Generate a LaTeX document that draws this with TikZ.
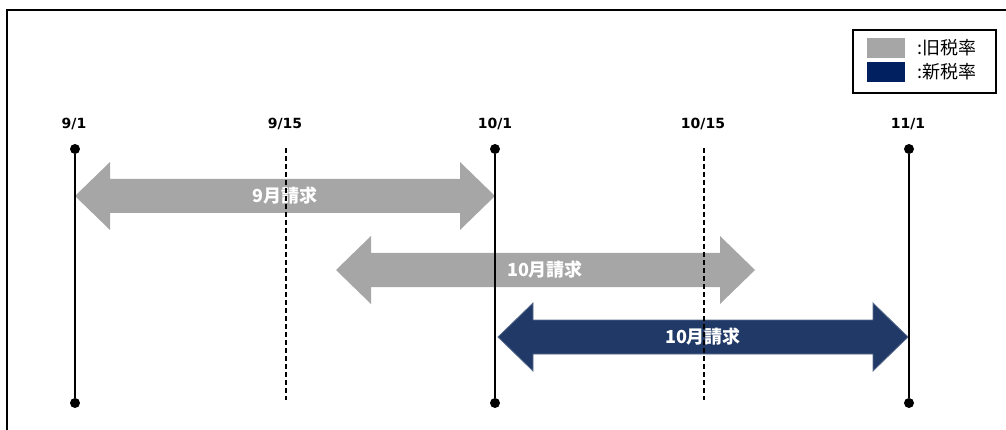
\documentclass[tikz,border=0pt]{standalone}
\usepackage{fontspec}
\setmainfont{DejaVu Sans}
\newfontfamily\cjk{Noto Sans CJK JP}
\usetikzlibrary{positioning}

\definecolor{oldrate}{RGB}{166,166,166}
\definecolor{newrate}{RGB}{0,32,96}
\definecolor{newbar}{RGB}{33,57,103}

\tikzset{
  dot/.style={circle,fill,inner sep=0pt,minimum size=10pt},
  dayline/.style={line width=2pt},
  midline/.style={line width=2pt,dash pattern=on 5pt off 3pt},
  datelbl/.style={font=\bfseries\fontsize{14}{16}\selectfont},
  billlbl/.style={text=white,font=\cjk\bfseries\fontsize{18}{20}\selectfont},
  swatch/.style={inner sep=0pt,minimum width=38pt,minimum height=20pt},
  legtxt/.style={anchor=west,inner sep=0pt,font=\cjk\fontsize{18}{20}\selectfont}
}

% one billing period: left tip, right tip, middle y, fill style
\newcommand{\billarrow}[4]{%
  \fill[#4] (#1,#3) -- ({#1+35},{#3-34}) -- ({#1+35},{#3-17}) -- ({#2-35},{#3-17})
    -- ({#2-35},{#3-34}) -- (#2,#3) -- ({#2-35},{#3+34}) -- ({#2-35},{#3+17})
    -- ({#1+35},{#3+17}) -- ({#1+35},{#3+34}) -- cycle;}

\begin{document}
\begin{tikzpicture}[x=1pt,y=-1pt]
  \useasboundingbox (0,0) rectangle (1006,430);
  \draw[line width=2pt] (7,440) -- (7,10) -- (1016,10);

  % billing periods
  \billarrow{75}{495}{196}{oldrate}
  \billarrow{336}{755}{270}{oldrate}
  \billarrow{498}{908}{337}{newbar,draw=newbar!75!white,line width=0.8pt}

  \node[billlbl] (sep) at (285,196) {9月請求};
  \node[billlbl] (octold) at (545,270) {10月請求};
  \node[billlbl] (octnew) at (703,337) {10月請求};

  % month boundaries
  \foreach \x [count=\i] in {75,495,909} {
    \node[dot] (top\i) at (\x,149) {};
    \node[dot] (bot\i) at (\x,403) {};
    \draw[dayline] (top\i) -- (bot\i);
  }
  % mid-month
  \foreach \x [count=\i] in {286,704} {
    \coordinate (mtop\i) at (\x,148);
    \coordinate (mbot\i) at (\x,400);
    \draw[midline] (mtop\i) -- (mbot\i);
  }

  \node[datelbl] (d1) at (74,124) {9/1};
  \node[datelbl] (d2) at (285,124) {9/15};
  \node[datelbl] (d3) at (495,124) {10/1};
  \node[datelbl] (d4) at (703,124) {10/15};
  \node[datelbl] (d5) at (908,124) {11/1};

  % legend
  \node[draw,line width=1.6pt,minimum width=143pt,minimum height=63pt] (legend) at (924.5,61.5) {};
  \node[swatch,fill=oldrate] (sw1) at (886,48) {};
  \node[swatch,fill=newrate] (sw2) at (886,72) {};
  \node[legtxt] (lg1) at (917,48) {:旧税率};
  \node[legtxt] (lg2) at (917,72) {:新税率};
\end{tikzpicture}
\end{document}
